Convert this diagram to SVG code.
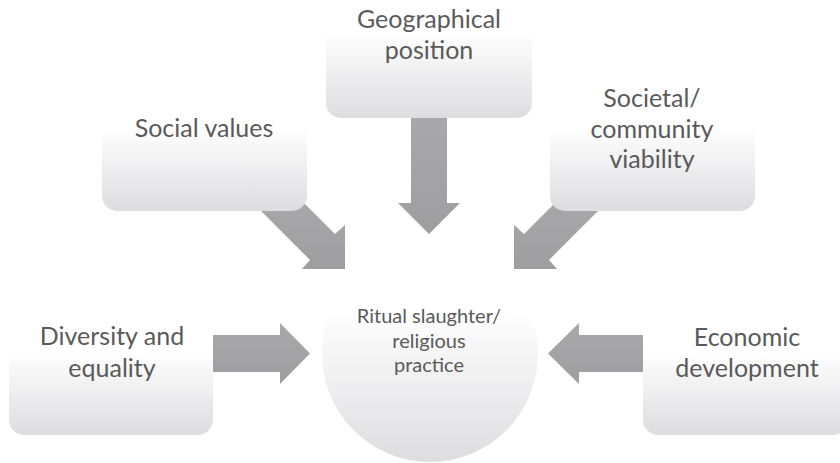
<svg xmlns="http://www.w3.org/2000/svg" width="840" height="463" viewBox="0 0 840 463">
  <defs>
    <linearGradient id="boxFill" x1="0" y1="0" x2="0" y2="1">
      <stop offset="0" stop-color="#ffffff"/>
      <stop offset="0.3" stop-color="#ffffff"/>
      <stop offset="1" stop-color="#dddde0"/>
    </linearGradient>
    <linearGradient id="arrowFill" x1="0" y1="0" x2="0" y2="1">
      <stop offset="0" stop-color="#a9a9ac"/>
      <stop offset="1" stop-color="#9e9ea1"/>
    </linearGradient>
    <style>
      .box { fill: url(#boxFill); }
      .arrow { fill: url(#arrowFill); }
      .lbl { font-family: Lato, "Liberation Sans", sans-serif; font-size: 25px; fill: #5a5a5a; text-anchor: middle; }
      .clbl { font-family: Lato, "Liberation Sans", sans-serif; font-size: 20px; fill: #5a5a5a; text-anchor: middle; }
    </style>
  </defs>
  <rect width="840" height="463" fill="#ffffff"/>
  <g id="connectors">
    <polygon class="arrow" points="411,110 447,110 447,203 460,203 429,234 398,203 411,203"/>
    <polygon class="arrow" points="245,195 296,195 335,234 345,225 345,269 302,269 310,260"/>
    <polygon class="arrow" points="614,195 563,195 524,234 514,225 514,269 557,269 549,260"/>
    <polygon class="arrow" points="205,335 280,335 280,323 310,353.5 280,384 280,372 205,372"/>
    <polygon class="arrow" points="650,335 579,335 579,323 548,353.5 579,384 579,372 650,372"/>
  </g>
  <g id="geographical">
    <rect class="box" x="326" y="-4" width="206" height="122" rx="15"/>
    <text class="lbl" x="429" y="28">Geographical</text>
    <text class="lbl" x="429" y="59">position</text>
  </g>
  <g id="social">
    <rect class="box" x="102" y="91" width="205" height="120" rx="15"/>
    <text class="lbl" x="204" y="137">Social values</text>
  </g>
  <g id="societal">
    <rect class="box" x="550" y="91" width="205" height="120" rx="15"/>
    <text class="lbl" x="652" y="107">Societal/</text>
    <text class="lbl" x="652" y="138">community</text>
    <text class="lbl" x="652" y="168">viability</text>
  </g>
  <g id="diversity">
    <rect class="box" x="9" y="315" width="204" height="120" rx="15"/>
    <text class="lbl" x="112" y="345">Diversity and</text>
    <text class="lbl" x="112" y="377">equality</text>
  </g>
  <g id="economic">
    <rect class="box" x="643" y="315" width="205" height="120" rx="15"/>
    <text class="lbl" x="747" y="346">Economic</text>
    <text class="lbl" x="747" y="377">development</text>
  </g>
  <g id="ritual">
    <circle class="box" cx="430" cy="354" r="108"/>
    <text class="clbl" x="429" y="323">Ritual slaughter/</text>
    <text class="clbl" x="429" y="348">religious</text>
    <text class="clbl" x="429" y="372">practice</text>
  </g>
</svg>
